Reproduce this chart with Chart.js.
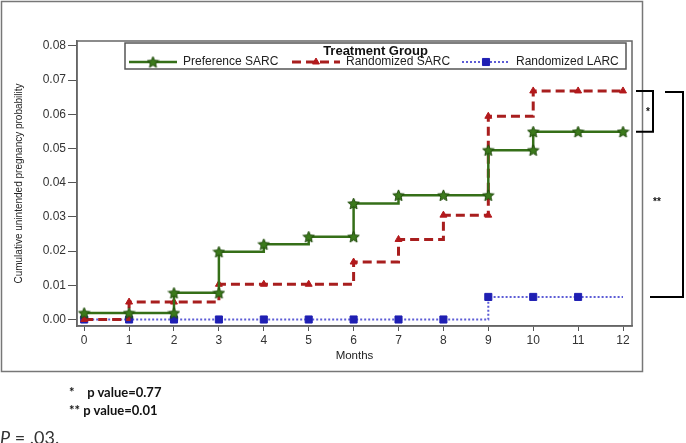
<!DOCTYPE html>
<html>
<head>
<meta charset="utf-8">
<script src="https://cdn.jsdelivr.net/npm/chart.js@4"></script>
<style>
body { margin: 0; background: #fff; }
#wrap { position: relative; width: 686px; height: 443px; overflow: hidden; }
#chart { position: absolute; left: 0; top: 0; }
.note { position: absolute; font-family: Lato, "Liberation Sans", sans-serif; font-weight: bold; font-size: 13px; color: #111; white-space: pre; line-height: 16px; }
#pval { position: absolute; left: 0; top: 426px; font-family: Lato, "Open Sans", sans-serif; font-size: 18px; color: #333; white-space: pre; }
</style>
</head>
<body>
<div id="wrap">
<canvas id="chart" width="686" height="443"></canvas>
<div class="note" style="left:69px; top:384px">*    p value=0.77</div>
<div class="note" style="left:69px; top:402px">** p value=0.01</div>
<div id="pval"><i>P</i> = .03.</div>
</div>
<script>
// Werte je Monat (Wert nach dem Sprung im jeweiligen Monat)
const months = [0, 1, 2, 3, 4, 5, 6, 7, 8, 9, 10, 11, 12];
const prefSarc = [0.0019, 0.0019, 0.0078, 0.0198, 0.0220, 0.0242, 0.0339, 0.0363, 0.0363, 0.0495, 0.0549, 0.0549, 0.0549];
const randSarc = [0.0000, 0.0051, 0.0051, 0.0103, 0.0103, 0.0103, 0.0168, 0.0234, 0.0305, 0.0594, 0.0668, 0.0668, 0.0668];
const randLarc = [0, 0, 0, 0, 0, 0, 0, 0, 0, 0.0066, 0.0066, 0.0066, 0.0066];
// Monate, in denen auch der Wert vor dem Sprung ein Symbol hat
const prefBeforeMarks = [2, 3, 6, 9, 10];
const randSarcBeforeMarks = [9];
const randLarcBeforeMarks = [];
const yTicks = [0, 0.01, 0.02, 0.03, 0.04, 0.05, 0.06, 0.07, 0.08];
const seriesNames = ['Preference SARC', 'Randomized SARC', 'Randomized LARC'];
const legendTitle = 'Treatment Group';

const tickFont = { family: '"Liberation Sans", Arial, sans-serif', size: 12 };

// Treppenkurve: bei jedem Sprung zusaetzlich den Wert davor einfuegen
function stepPoints(values) {
    const pts = [];
    values.forEach((v, i) => {
        if (i > 0 && v !== values[i - 1])
            pts.push({ x: months[i], y: values[i - 1], before: true });
        pts.push({ x: months[i], y: v });
    });
    return pts;
}

function markerRadius(r, beforeMarks, skipLast) {
    return (c) => {
        const p = c.raw;
        if (!p) return r;
        if (p.before && !beforeMarks.includes(p.x)) return 0;
        if (skipLast && p.x === months[months.length - 1]) return 0;
        return r;
    };
}

// gefuellter fuenfzackiger Stern als Punktsymbol
function starImage(size, fill, stroke) {
    const c = document.createElement('canvas');
    c.width = size;
    c.height = size;
    const g = c.getContext('2d');
    const cx = size / 2, cy = size / 2 + 0.5, r = size / 2 - 0.5, ri = r * 0.45;
    g.beginPath();
    for (let k = 0; k < 10; k++) {
        const a = -Math.PI / 2 + k * Math.PI / 5;
        const rr = k % 2 ? ri : r;
        g.lineTo(cx + rr * Math.cos(a), cy + rr * Math.sin(a));
    }
    g.closePath();
    g.fillStyle = fill;
    g.fill();
    g.strokeStyle = stroke;
    g.lineWidth = 1;
    g.stroke();
    return c;
}

const star = starImage(13, '#3c7a1c', '#1f4a0a');

// Rahmen, Legende im Plot und Klammern rechts
const extras = {
    id: 'extras',
    afterDraw(chart) {
        const { ctx, chartArea: a, scales: { y } } = chart;
        ctx.save();

        ctx.strokeStyle = '#666';
        ctx.lineWidth = 1.5;
        ctx.strokeRect(a.left, a.top, a.right - a.left, a.bottom - a.top);
        ctx.strokeStyle = '#777';
        ctx.strokeRect(1.5, 1.5, 641, 370);

        // Legende
        const lg = { left: 125, top: 43, right: 626, bottom: 69 };
        ctx.fillStyle = '#fff';
        ctx.fillRect(lg.left, lg.top, lg.right - lg.left, lg.bottom - lg.top);
        ctx.strokeStyle = '#555';
        ctx.lineWidth = 1.5;
        ctx.strokeRect(lg.left, lg.top, lg.right - lg.left, lg.bottom - lg.top);
        ctx.fillStyle = '#111';
        ctx.font = 'bold 13px "Liberation Sans", Arial, sans-serif';
        ctx.textAlign = 'center';
        ctx.textBaseline = 'middle';
        ctx.fillText(legendTitle, (lg.left + lg.right) / 2, 51);

        const starts = [129, 292, 462];
        const yy = 62;
        chart.data.datasets.forEach((ds, i) => {
            const x0 = starts[i], x1 = x0 + 48;
            ctx.save();
            ctx.strokeStyle = ds.borderColor;
            ctx.lineWidth = ds.borderWidth;
            ctx.setLineDash(ds.borderDash || []);
            ctx.beginPath();
            ctx.moveTo(x0, yy);
            ctx.lineTo(x1, yy);
            ctx.stroke();
            ctx.restore();
            ctx.save();
            ctx.fillStyle = ds.pointBackgroundColor;
            ctx.strokeStyle = ds.pointBorderColor;
            ctx.lineWidth = 1;
            Chart.helpers.drawPoint(ctx, { pointStyle: ds.pointStyle, radius: ds.legendRadius, borderWidth: 1, rotation: 0 }, (x0 + x1) / 2, yy);
            ctx.restore();
            ctx.fillStyle = '#222';
            ctx.font = '12px "Liberation Sans", Arial, sans-serif';
            ctx.textAlign = 'left';
            ctx.fillText(ds.label, x1 + 6, yy);
        });

        // Klammern fuer die p-Werte
        const yTop = y.getPixelForValue(randSarc[randSarc.length - 1]);
        const yMid = y.getPixelForValue(prefSarc[prefSarc.length - 1]);
        const yLow = y.getPixelForValue(randLarc[randLarc.length - 1]);
        ctx.strokeStyle = '#000';
        ctx.lineWidth = 2;
        ctx.beginPath();
        ctx.moveTo(636, yTop);
        ctx.lineTo(653, yTop);
        ctx.lineTo(653, yMid);
        ctx.lineTo(636, yMid);
        ctx.stroke();
        ctx.beginPath();
        ctx.moveTo(665, yTop + 1);
        ctx.lineTo(683, yTop + 1);
        ctx.lineTo(683, yLow);
        ctx.lineTo(650, yLow);
        ctx.stroke();
        ctx.fillStyle = '#111';
        ctx.font = 'bold 10px "Liberation Sans", Arial, sans-serif';
        ctx.textAlign = 'center';
        ctx.fillText('*', 648, (yTop + yMid) / 2 + 1);
        ctx.fillText('**', 657, (yTop + yLow) / 2 + 8);

        ctx.restore();
    }
};

new Chart(document.getElementById('chart').getContext('2d'), {
    type: 'line',
    data: {
        datasets: [
            {
                label: seriesNames[0],
                data: stepPoints(prefSarc),
                borderColor: '#356f18',
                borderWidth: 2.5,
                pointStyle: star,
                pointRadius: markerRadius(5, prefBeforeMarks, false),
                pointBackgroundColor: '#3c7a1c',
                pointBorderColor: '#1f4a0a',
                legendRadius: 5,
                fill: false,
                tension: 0
            },
            {
                label: seriesNames[1],
                data: stepPoints(randSarc),
                borderColor: '#a81e1e',
                borderWidth: 3,
                borderDash: [9, 5],
                pointStyle: 'triangle',
                pointRadius: markerRadius(4, randSarcBeforeMarks, false),
                pointBackgroundColor: '#b3191c',
                pointBorderColor: '#b3191c',
                pointBorderWidth: 1,
                legendRadius: 4,
                fill: false,
                tension: 0
            },
            {
                label: seriesNames[2],
                data: stepPoints(randLarc),
                borderColor: '#5c5cd6',
                borderWidth: 2,
                borderDash: [2, 2],
                pointStyle: 'rect',
                pointRadius: markerRadius(5, randLarcBeforeMarks, true),
                pointBackgroundColor: '#1f1fb3',
                pointBorderColor: '#1f1fb3',
                pointBorderWidth: 1,
                legendRadius: 5,
                fill: false,
                tension: 0
            }
        ]
    },
    options: {
        responsive: false,
        animation: false,
        events: [],
        layout: { padding: { left: 0, top: 41, right: 54, bottom: 77 } },
        plugins: {
            legend: { display: false },
            tooltip: { enabled: false }
        },
        scales: {
            x: {
                type: 'linear',
                min: -0.16,
                max: 12.2,
                afterBuildTicks: (ax) => { ax.ticks = months.map(v => ({ value: v })); },
                afterFit: (s) => { s.height = 40; },
                ticks: { font: tickFont, color: '#333', padding: 2, maxRotation: 0, autoSkip: false },
                grid: { drawOnChartArea: false, tickLength: 5, color: '#555' },
                border: { color: '#666', width: 1.5 },
                title: {
                    display: true,
                    text: 'Months',
                    color: '#222',
                    font: { family: '"Liberation Sans", Arial, sans-serif', size: 11.5 },
                    padding: { top: 0, bottom: 3 }
                }
            },
            y: {
                min: -0.0019,
                max: 0.0814,
                afterBuildTicks: (ax) => { ax.ticks = yTicks.map(v => ({ value: v })); },
                afterFit: (s) => { s.width = 77; },
                ticks: { font: tickFont, color: '#333', padding: 2, callback: (v) => v.toFixed(2) },
                grid: { drawOnChartArea: false, tickLength: 9, color: '#555' },
                border: { color: '#666', width: 1.5 },
                title: {
                    display: true,
                    text: 'Cumulative unintended pregnancy probability',
                    color: '#222',
                    font: { family: '"Liberation Sans", Arial, sans-serif', size: 10 },
                    padding: { top: 13, bottom: 0 }
                }
            }
        }
    },
    plugins: [extras]
});
</script>
</body>
</html>
